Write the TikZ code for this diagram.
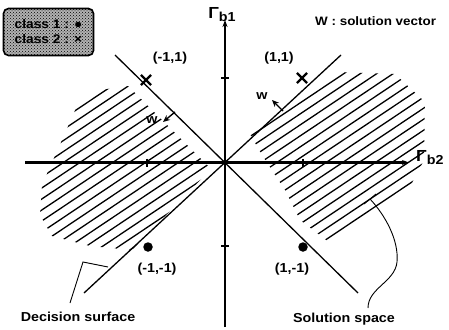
\documentclass[tikz,border=0pt]{standalone}
\usepackage{fontspec}
\setmainfont{Liberation Sans}[FakeStretch=1.1]
\usetikzlibrary{arrows.meta,patterns,shapes.misc}

\begin{document}
\begin{tikzpicture}[
  x=1pt, y=-1pt,
  font=\bfseries\fontsize{13}{15}\selectfont,
  >=Stealth,
  axis/.style={line width=1.6pt, -{Stealth[length=7pt,width=5pt]}},
  surface/.style={line width=1.3pt},
  hatch/.style={line width=1.3pt},
  leader/.style={line width=0.9pt},
  tickmark/.style={line width=1.4pt},
  xmark/.style={cross out, draw, line width=2.2pt, minimum size=8pt, inner sep=0pt},
  dot/.style={circle, fill=black, inner sep=0pt, minimum size=9.5pt},
  warrow/.style={-{Stealth[length=7pt,width=6pt]}, line width=1.4pt},
  legendbox/.style={draw, line width=1.6pt, rounded corners=5pt,
    preaction={fill=black!30}, pattern=crosshatch dots,
    minimum width=90pt, minimum height=47pt, align=left, inner sep=0pt},
]
\useasboundingbox (0,0) rectangle (449,329);

% Solution space: hatched wedges between the two decision surfaces
\begin{scope}
  \clip (211,169) -- (128,86) -- (100,90) -- (76,108) -- (62,140) -- (42,185)
        -- (40,215) -- (52,236) -- (90,246) -- (132,250) -- cycle
        (250,134) -- (338,72) -- (395,74) -- (425,102) -- (424,160) -- (405,196)
        -- (330,243) -- (300,220) -- (285,190) -- (262,155) -- cycle;
  \foreach \c in {150,161,...,480}
    \draw[hatch] (0,\c) -- (449,{\c-300.8});
\end{scope}

% Axes
\coordinate (O)      at (225,162.5);
\coordinate (r1bot)  at (225,327);
\coordinate (r1top)  at (225,20);
\coordinate (r2left) at (25,162.5);
\coordinate (r2rgt)  at (409,162.5);
\draw[axis] (r1bot) -- (r1top);
\draw[axis, line width=2.4pt] (r2left) -- (r2rgt);
\foreach \y in {78,246}
  \draw[tickmark] (221,\y) -- (229,\y);
\foreach \x in {147,303}
  \draw[tickmark] (\x,158.5) -- (\x,166.5);
\fill (O) circle (2.6pt);

\node (gb1) at (222,15) {{\fontsize{16}{16}\selectfont Γ}\raisebox{-3pt}{b1}};
\node[anchor=west, inner sep=1pt] (gb2) at (415,158) {{\fontsize{16}{16}\selectfont Γ}\raisebox{-3pt}{b2}};

% Decision surfaces
\coordinate (s1a) at (115,55);
\coordinate (s1b) at (358,293);
\coordinate (s2a) at (84,293);
\coordinate (s2b) at (341,55);
\draw[surface] (s1a) -- (s1b);
\draw[surface] (s2a) -- (s2b);

% Patterns
\node[xmark] (x1) at (146,80) {};
\node[xmark] (x2) at (302,78) {};
\node[dot]   (d1) at (148,247) {};
\node[dot]   (d2) at (303,247) {};
\node (pm1p1) at (170,58)  {(-1,1)};
\node (p1p1)  at (279,58)  {(1,1)};
\node (pm1m1) at (157,269) {(-1,-1)};
\node (p1m1)  at (292,269) {(1,-1)};

% Solution vectors
\coordinate (w1tail) at (175,112);
\coordinate (w1tip)  at (163,122);
\coordinate (w2tail) at (283,111);
\coordinate (w2tip)  at (272,100);
\draw[warrow] (w1tail) -- (w1tip);
\draw[warrow] (w2tail) -- (w2tip);
\node (w1) at (152,120) {w};
\node (w2) at (262,96)  {w};
\node[anchor=west, inner sep=1pt, font=\bfseries\fontsize{12.2}{14}\selectfont] (wlabel) at (314,21) {W : solution vector};

% Legend
\node[legendbox, font=\bfseries\fontsize{12.5}{15}\selectfont] (legend) at (48.5,32) {class 1 : ●\\class 2 : ×};

% Callouts
\node (decision) at (78,317) {Decision surface};
\coordinate (ds1) at (70,303);
\coordinate (ds2) at (83,262);
\coordinate (ds3) at (108,267);
\draw[leader] (ds1) -- (ds2) -- (ds3);

\node (solution) at (344,319) {Solution space};
\coordinate (sp1) at (370,199);
\coordinate (sp2) at (397,262);
\coordinate (sp3) at (368,308);
\draw[leader] (sp1) .. controls (385,215) and (399,240) .. (sp2)
              .. controls (395,282) and (368,288) .. (sp3);
\draw[leader] (364,204) -- (376,194);

\end{tikzpicture}
\end{document}
